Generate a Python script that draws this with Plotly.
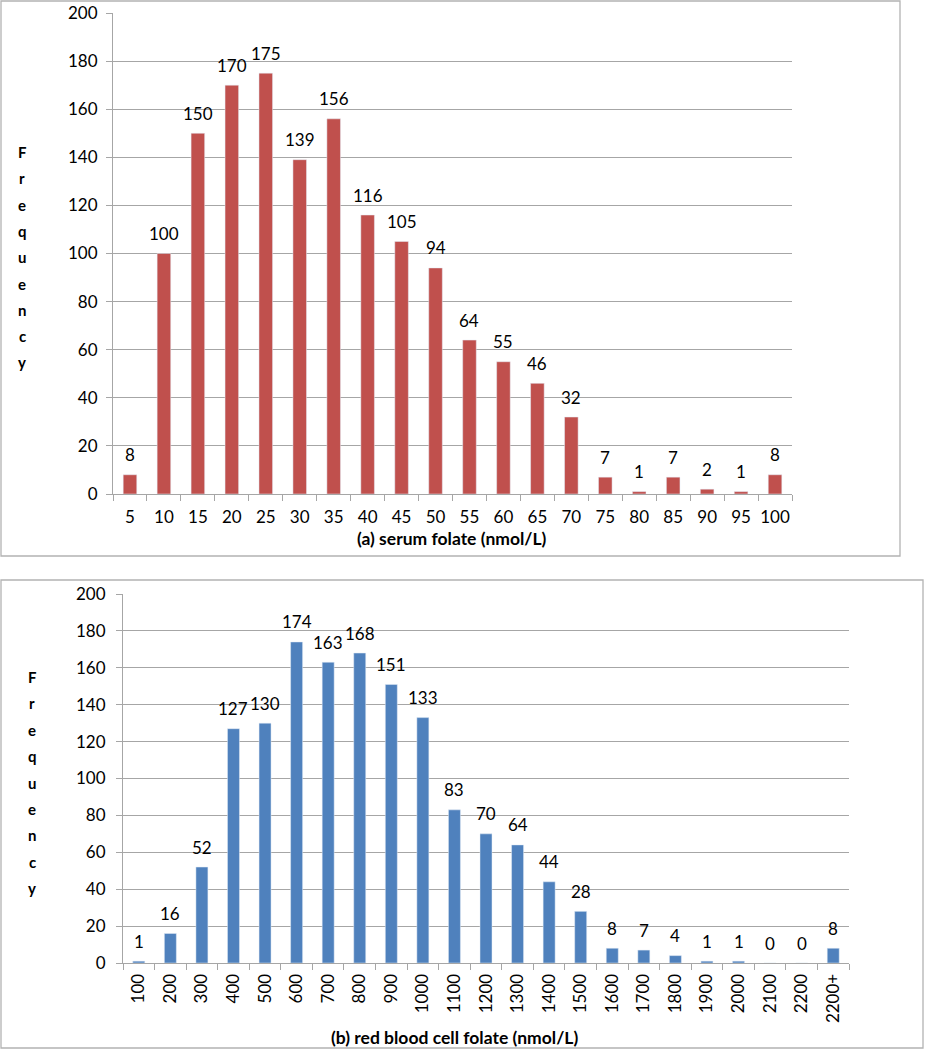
import plotly.graph_objects as go

# ---------------- data ----------------
serum_bins = ["5", "10", "15", "20", "25", "30", "35", "40", "45", "50",
              "55", "60", "65", "70", "75", "80", "85", "90", "95", "100"]
serum_freq = [8, 100, 150, 170, 175, 139, 156, 116, 105, 94,
              64, 55, 46, 32, 7, 1, 7, 2, 1, 8]

rbc_bins = ["100", "200", "300", "400", "500", "600", "700", "800", "900", "1000",
            "1100", "1200", "1300", "1400", "1500", "1600", "1700", "1800", "1900",
            "2000", "2100", "2200", "2200+"]
rbc_freq = [1, 16, 52, 127, 130, 174, 163, 168, 151, 133,
            83, 70, 64, 44, 28, 8, 7, 4, 1, 1, 0, 0, 8]

y_ticks = [0, 20, 40, 60, 80, 100, 120, 140, 160, 180, 200]
ylabel_letters = list("Frequency")
title_a = "(a) serum folate (nmol/L)"
title_b = "(b) red blood cell folate (nmol/L)"

# ---------------- styling ----------------
W, H = 925, 1050
FONT = "Lato, Calibri, Carlito, sans-serif"
RED = "#C0504D"
BLUE = "#4F81BD"
GRID = "#a6a6a6"
BORDER = "#b3b3b3"
TICK_SIZE = 17
LABEL_SIZE = 17
TITLE_SIZE = 17.5


def px(x):
    return x / W


def py(y):
    return 1 - y / H


fig = go.Figure()
fig.add_trace(go.Bar(x=serum_bins, y=serum_freq, marker_color=RED, width=0.4,
                     xaxis="x", yaxis="y", showlegend=False))
fig.add_trace(go.Bar(x=rbc_bins, y=rbc_freq, marker_color=BLUE, width=0.38,
                     xaxis="x2", yaxis="y2", showlegend=False))

axis_common = dict(showline=True, linecolor=GRID, linewidth=1, automargin=False,
                   tickfont=dict(family=FONT, size=TICK_SIZE, color="#000000"),
                   ticks="outside", tickcolor=GRID, ticklen=6, fixedrange=True)

fig.update_layout(
    width=W, height=H, autosize=False,
    margin=dict(l=0, r=0, t=0, b=0, pad=0),
    paper_bgcolor="white", plot_bgcolor="white",
    font=dict(family=FONT, size=16, color="#000000"),
    xaxis=dict(domain=[px(113), px(792)], anchor="y", type="category",
               categoryorder="array", categoryarray=serum_bins,
               range=[-0.5, len(serum_bins) - 0.5],
               tickson="boundaries", showgrid=False, tickangle=0,
               ticklabelstandoff=8, **axis_common),
    yaxis=dict(domain=[py(494), py(13)], anchor="x", range=[0, 200],
               tickvals=y_ticks, showgrid=True, gridcolor=GRID, gridwidth=1,
               zeroline=False, ticklabelstandoff=5, **axis_common),
    xaxis2=dict(domain=[px(123), px(849)], anchor="y2", type="category",
                categoryorder="array", categoryarray=rbc_bins,
                range=[-0.5, len(rbc_bins) - 0.5],
                tickson="boundaries", showgrid=False, tickangle=-90,
                ticklabelstandoff=3, **axis_common),
    yaxis2=dict(domain=[py(963), py(594)], anchor="x2", range=[0, 200],
                tickvals=y_ticks, showgrid=True, gridcolor=GRID, gridwidth=1,
                zeroline=False, ticklabelstandoff=7, **axis_common),
)

# panel borders
fig.add_shape(type="rect", xref="paper", yref="paper",
              x0=px(1), x1=px(900), y0=py(1), y1=py(556),
              line=dict(color=BORDER, width=1.3))
fig.add_shape(type="rect", xref="paper", yref="paper",
              x0=px(1), x1=px(923), y0=py(580), y1=py(1048),
              line=dict(color=BORDER, width=1.3))

ann = []
# data labels (category axes take the category index)
for i, v in enumerate(serum_freq):
    ann.append(dict(x=i, y=v, xref="x", yref="y", text=str(v), showarrow=False,
                    yanchor="middle", yshift=20,
                    font=dict(family=FONT, size=LABEL_SIZE, color="#000000")))
for i, v in enumerate(rbc_freq):
    ann.append(dict(x=i, y=v, xref="x2", yref="y2", text=str(v), showarrow=False,
                    yanchor="middle", yshift=20,
                    font=dict(family=FONT, size=LABEL_SIZE, color="#000000")))

# stacked y-axis titles
for i, ch in enumerate(ylabel_letters):
    ann.append(dict(x=px(22), y=py(152 + 26.3 * i), xref="paper", yref="paper",
                    text="<b>%s</b>" % ch, showarrow=False, xanchor="center",
                    yanchor="middle", font=dict(family=FONT, size=15, color="#000000")))
    ann.append(dict(x=px(32), y=py(677 + 26.4 * i), xref="paper", yref="paper",
                    text="<b>%s</b>" % ch, showarrow=False, xanchor="center",
                    yanchor="middle", font=dict(family=FONT, size=15, color="#000000")))

# x-axis titles
ann.append(dict(x=px(452), y=py(538), xref="paper", yref="paper",
                text="<b>%s</b>" % title_a, showarrow=False, xanchor="center",
                yanchor="middle", font=dict(family=FONT, size=TITLE_SIZE, color="#000000")))
ann.append(dict(x=px(454), y=py(1037), xref="paper", yref="paper",
                text="<b>%s</b>" % title_b, showarrow=False, xanchor="center",
                yanchor="middle", font=dict(family=FONT, size=TITLE_SIZE, color="#000000")))

fig.update_layout(annotations=ann)

fig.write_html(
    "out.html",
    config={"displayModeBar": False},
    post_script="document.body.style.margin='0';document.body.style.padding='0';"
                "document.body.style.overflow='hidden';",
)
